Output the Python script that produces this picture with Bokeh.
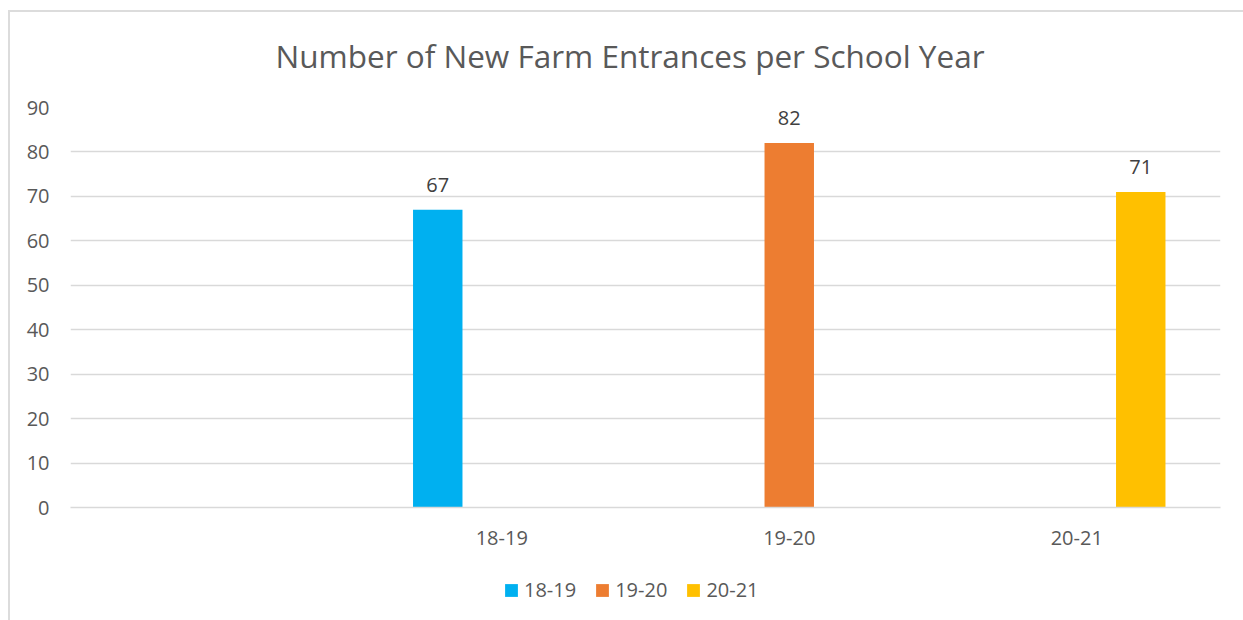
from bokeh.plotting import figure
from bokeh.layouts import column
from bokeh.models import (ColumnDataSource, FactorRange, Range1d, Legend, LegendItem,
                          LabelSet, FixedTicker)
from bokeh.core.properties import value
from bokeh.transform import dodge
from bokeh.embed import file_html
from bokeh.resources import INLINE

# ---- data ----
years = ["18-19", "19-20", "20-21"]
counts = [67, 82, 71]
colors = ["#00B0F0", "#ED7D31", "#FFC000"]
categories = [" "] + years
y_ticks = [0, 10, 20, 30, 40, 50, 60, 70, 80, 90]

FONT = "Open Sans"
GRAY = "#595959"
BORDER = "#dcdcdc"

p = figure(width=1243, height=570,
           x_range=FactorRange(factors=categories),
           y_range=Range1d(0, 90),
           output_backend="svg", toolbar_location=None,
           min_border_left=70, min_border_right=23,
           min_border_top=107, min_border_bottom=63)

p.title.text = "Number of New Farm Entrances per School Year"
p.title.align = "left"
p.title.offset = 205
p.title.text_font = FONT
p.title.text_font_size = "31.5px"
p.title.text_font_style = "normal"
p.title.text_color = GRAY
p.title.standoff = 62

p.outline_line_color = None
p.background_fill_color = "white"
p.border_fill_color = None

p.xgrid.grid_line_color = None
p.ygrid.grid_line_color = "#d9d9d9"
p.ygrid.grid_line_width = 1.5

p.yaxis.ticker = FixedTicker(ticks=y_ticks)
p.yaxis.axis_line_color = None
p.yaxis.major_tick_line_color = None
p.yaxis.minor_tick_line_color = None
p.yaxis.major_label_standoff = 15
p.yaxis.major_label_text_font = FONT
p.yaxis.major_label_text_font_size = "20px"
p.yaxis.major_label_text_color = GRAY

p.xaxis.axis_line_color = "#d9d9d9"
p.xaxis.axis_line_width = 1.5
p.xaxis.major_tick_line_color = None
p.xaxis.minor_tick_line_color = None
p.xaxis.major_label_standoff = 10
p.xaxis.major_label_text_font = FONT
p.xaxis.major_label_text_font_size = "20px"
p.xaxis.major_label_text_color = GRAY

step = 0.2226
sources = []
for i, (yr, c, col) in enumerate(zip(years, counts, colors)):
    src = ColumnDataSource(dict(x=[yr], y=[c], lab=[str(c)]))
    sources.append(src)
    off = (i - 1) * step
    p.vbar(x=dodge("x", off, range=p.x_range), top="y", width=0.172,
           source=src, fill_color=col, line_color=None)
    lbl = LabelSet(x=dodge("x", off, range=p.x_range), y="y", text="lab", source=src,
                   y_offset=18, text_align="center", text_baseline="alphabetic",
                   text_font=value(FONT), text_font_size=value("20px"),
                   text_color="#404040")
    p.add_layout(lbl)

# ---- legend strip: hidden proxies of the same series, only their swatches show ----
pl = figure(width=1243, height=50, x_range=FactorRange(factors=categories),
            y_range=Range1d(0, 90),
            output_backend="svg", toolbar_location=None,
            x_axis_location=None, y_axis_location=None,
            min_border_left=0, min_border_right=0, min_border_top=0, min_border_bottom=0)
pl.outline_line_color = None
pl.grid.visible = False
pl.background_fill_color = None
pl.border_fill_color = None
items = []
for i, (yr, col, src) in enumerate(zip(years, colors, sources)):
    r = pl.vbar(x="x", top="y", width=0.172, source=src,
                fill_color=col, line_color=None, visible=False)
    items.append(LegendItem(label=yr, renderers=[r]))
legend = Legend(items=items, orientation="horizontal", location=(433, 17),
                glyph_width=16, glyph_height=16, label_standoff=5, spacing=18,
                label_text_font=FONT, label_text_font_size="20px",
                label_text_color=GRAY, border_line_color=None,
                background_fill_alpha=0, padding=0, margin=0,
                inactive_fill_alpha=0)
pl.add_layout(legend, "center")

bg = ("linear-gradient(%s,%s) 8px 10px / 2px 100%% no-repeat, "
      "linear-gradient(%s,%s) 8px 10px / 100%% 2px no-repeat, white") % (BORDER, BORDER, BORDER, BORDER)
layout = column(p, pl, spacing=0, styles={"background": bg})

open("out.html", "w").write(file_html(layout, INLINE))
